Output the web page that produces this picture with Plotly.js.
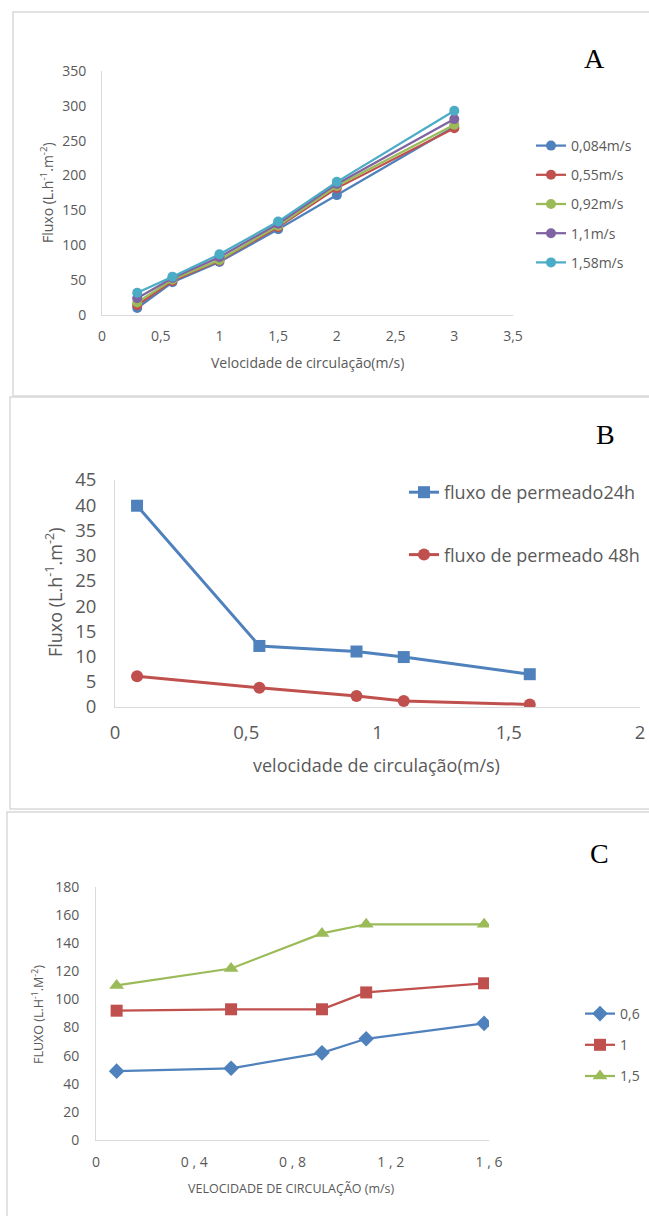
<!DOCTYPE html>
<html>
<head>
<meta charset="utf-8">
<script src="https://cdn.plot.ly/plotly-3.0.1.min.js"></script>
<style>
  html, body { margin: 0; padding: 0; background: #ffffff; }
  #chart { width: 649px; height: 1216px; }
</style>
</head>
<body>
<div id="chart"></div>
<script>
// ---- Panel A: flux vs circulation velocity, one line per series ----
const velA = [0.3, 0.6, 1, 1.5, 2, 3];
const seriesNamesA = ['0,084m/s', '0,55m/s', '0,92m/s', '1,1m/s', '1,58m/s'];
const fluxA_0084 = [10, 47, 76, 123, 172, 270];
const fluxA_055 = [14, 49, 78, 126, 182, 268];
const fluxA_092 = [18, 51, 79, 128, 185, 273];
const fluxA_11 = [24, 53, 83, 131, 188, 281];
const fluxA_158 = [32, 55, 87, 134, 191, 293];

// ---- Panel B: permeate flux after 24 h and 48 h ----
const velB = [0.084, 0.55, 0.92, 1.1, 1.58];
const seriesNamesB = ['fluxo de permeado24h', 'fluxo de permeado 48h'];
const flux24h = [39.9, 12.1, 11.0, 9.9, 6.5];
const flux48h = [6.1, 3.8, 2.2, 1.2, 0.5];

// ---- Panel C: flux for three pressures ----
const velC = [0.084, 0.55, 0.92, 1.1, 1.58];
const seriesNamesC = ['0,6', '1', '1,5'];
const fluxC_06 = [49, 51, 62, 72, 83];
const fluxC_1 = [92, 93, 93, 105, 111.5];
const fluxC_15 = [110, 122, 147, 153.5, 153.5];
const tickValsC = [0, 0.4, 0.8, 1.2, 1.6];
const tickTextC = ['0', '0 , 4', '0 , 8', '1 , 2', '1 , 6'];

const W = 649, H = 1216;
const px = v => v / W;          // pixel -> paper x
const py = v => 1 - v / H;      // pixel -> paper y

const BLUE = '#4F81BD', RED = '#C0504D', GREEN = '#9BBB59', PURPLE = '#8064A2', AQUA = '#4BACC6';
const TXT = '#595959', AXL = '#d9d9d9';
const FONT = '"Open Sans", sans-serif';
const SERIF = '"Liberation Serif", "Times New Roman", serif';

function lineTrace(x, y, name, color, xa, ya, legend, sym, msize, lw) {
  return {
    type: 'scatter', mode: 'lines+markers', x: x, y: y, name: name,
    xaxis: xa, yaxis: ya, legend: legend, legendgroup: legend + name,
    line: { color: color, width: lw },
    marker: { color: color, symbol: sym, size: msize, line: { width: 0 } }
  };
}

const colorsA = [BLUE, RED, GREEN, PURPLE, AQUA];
const valuesA = [fluxA_0084, fluxA_055, fluxA_092, fluxA_11, fluxA_158];
const traces = [];
valuesA.forEach((vals, i) => traces.push(lineTrace(velA, vals, seriesNamesA[i], colorsA[i], 'x', 'y', 'legend', 'circle', 10, 2.25)));
traces.push(lineTrace(velB, flux24h, seriesNamesB[0], BLUE, 'x2', 'y2', 'legend2', 'square', 12, 3));
traces.push(lineTrace(velB, flux48h, seriesNamesB[1], RED, 'x2', 'y2', 'legend2', 'circle', 12, 3));
traces.push(lineTrace(velC, fluxC_06, seriesNamesC[0], BLUE, 'x3', 'y3', 'legend3', 'diamond', 12, 2.25));
traces.push(lineTrace(velC, fluxC_1, seriesNamesC[1], RED, 'x3', 'y3', 'legend3', 'square', 12, 2.25));
traces.push(lineTrace(velC, fluxC_15, seriesNamesC[2], GREEN, 'x3', 'y3', 'legend3', 'triangle-up', 13, 2.25));

function axis(extra) {
  return Object.assign({
    showgrid: false, zeroline: false, showline: true, linecolor: AXL, linewidth: 1,
    ticks: '', tickfont: { family: FONT, size: 14, color: TXT }, fixedrange: true
  }, extra);
}

function label(text, x, y, size, family, color, angle) {
  return { text: text, x: px(x), y: py(y), xref: 'paper', yref: 'paper', showarrow: false,
           xanchor: 'center', yanchor: 'middle', textangle: angle || 0,
           font: { family: family, size: size, color: color } };
}

const layout = {
  width: W, height: H, margin: { l: 0, r: 0, t: 0, b: 0 },
  paper_bgcolor: '#ffffff', plot_bgcolor: 'rgba(0,0,0,0)',
  separators: ',.',
  showlegend: true,
  font: { family: FONT, color: TXT },

  xaxis: axis({ domain: [px(102), px(513)], range: [0, 3.5], dtick: 0.5, anchor: 'y', ticklabelstandoff: 8 }),
  yaxis: axis({ domain: [py(315), py(71)], range: [0, 350], dtick: 50, anchor: 'x', ticklabelstandoff: 12 }),

  xaxis2: axis({ domain: [px(115), px(640)], range: [0, 2], dtick: 0.5, anchor: 'y2', ticklabelstandoff: 9,
                 tickfont: { family: FONT, size: 18.5, color: TXT } }),
  yaxis2: axis({ domain: [py(707), py(480)], range: [0, 45], dtick: 5, anchor: 'x2', ticklabelstandoff: 14,
                 tickfont: { family: FONT, size: 18.5, color: TXT } }),

  xaxis3: axis({ domain: [px(96), px(489)], range: [0, 1.6], tickvals: tickValsC, ticktext: tickTextC, anchor: 'y3', ticklabelstandoff: 9 }),
  yaxis3: axis({ domain: [py(1140), py(887)], range: [0, 180], dtick: 20, anchor: 'x3', ticklabelstandoff: 13 }),

  legend: { x: px(531), y: py(130), xanchor: 'left', yanchor: 'top', bgcolor: 'rgba(0,0,0,0)',
            font: { family: FONT, size: 14, color: TXT }, tracegroupgap: 8, traceorder: 'grouped' },
  legend2: { x: px(404), y: py(474), xanchor: 'left', yanchor: 'top', bgcolor: 'rgba(0,0,0,0)',
             font: { family: FONT, size: 18, color: TXT }, tracegroupgap: 36, traceorder: 'grouped' },
  legend3: { x: px(580), y: py(998), xanchor: 'left', yanchor: 'top', bgcolor: 'rgba(0,0,0,0)',
             font: { family: FONT, size: 14, color: TXT }, tracegroupgap: 10, traceorder: 'grouped' },

  shapes: [
    { type: 'rect', xref: 'paper', yref: 'paper', x0: px(13), x1: px(700), y0: py(396), y1: py(12), line: { color: AXL, width: 1.5 } },
    { type: 'rect', xref: 'paper', yref: 'paper', x0: px(10), x1: px(700), y0: py(809), y1: py(397), line: { color: AXL, width: 1.5 } },
    { type: 'rect', xref: 'paper', yref: 'paper', x0: px(7), x1: px(700), y0: py(1260), y1: py(812), line: { color: AXL, width: 1.5 } }
  ],

  annotations: [
    // panel letters
    label('A', 594, 58, 28, SERIF, '#000'),
    label('B', 605, 435, 28, SERIF, '#000'),
    label('C', 599, 853, 28, SERIF, '#000'),
    // axis titles, panel A
    label('Velocidade de circulação(m/s)', 307, 362, 14, FONT, TXT),
    label('Fluxo (L.h<sup>-1</sup>.m<sup>-2</sup>)', 47, 193, 14, FONT, TXT, -90),
    // axis titles, panel B
    label('velocidade de circulação(m/s)', 376, 765, 18, FONT, TXT),
    label('Fluxo (L.h<sup>-1</sup>.m<sup>-2</sup>)', 54, 592, 18, FONT, TXT, -90),
    // axis titles, panel C
    label('VELOCIDADE DE CIRCULAÇÃO (m/s)', 291, 1188, 12.5, FONT, TXT),
    label('FLUXO (L.H<sup>-1</sup>.M<sup>-2</sup>)', 38, 1015, 12.5, FONT, TXT, -90)
  ]
};

Plotly.newPlot('chart', traces, layout, { staticPlot: true, displayModeBar: false });
</script>
</body>
</html>
